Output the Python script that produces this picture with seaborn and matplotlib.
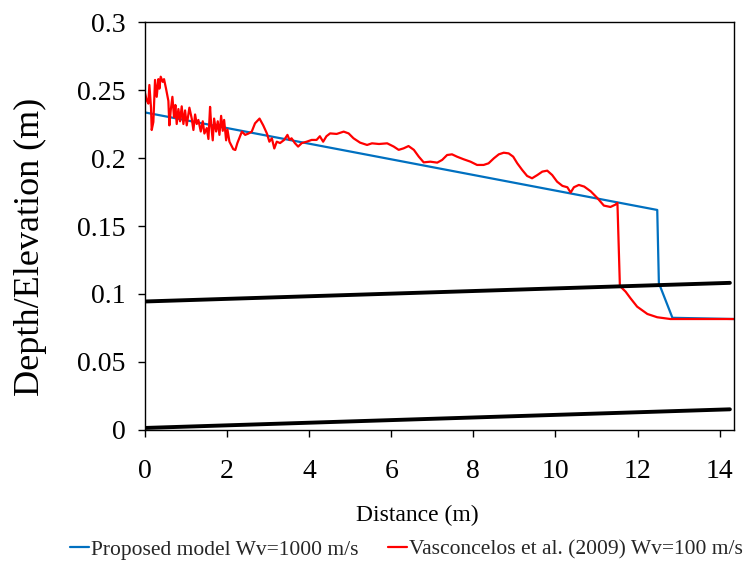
import matplotlib
matplotlib.use("Agg")
import matplotlib.pyplot as plt
import seaborn as sns

# ---------------- data ----------------
blue_x = [0.0, 12.48, 12.52, 12.85, 14.35]
blue_y = [0.2335, 0.1618, 0.1080, 0.0825, 0.0816]

red_x = [
    0.000, 0.040, 0.081, 0.106, 0.146, 0.163, 0.203, 0.244, 0.285, 0.325,
    0.350, 0.382, 0.431, 0.463, 0.512, 0.569, 0.593, 0.626, 0.667, 0.707,
    0.740, 0.772, 0.813, 0.854, 0.894, 0.935, 0.976, 1.016, 1.081, 1.138,
    1.179, 1.220, 1.260, 1.300, 1.358, 1.407, 1.447, 1.504, 1.545, 1.585,
    1.610, 1.650, 1.683, 1.732, 1.772, 1.813, 1.854, 1.894, 1.927, 1.976,
    2.008, 2.057, 2.150, 2.200, 2.250, 2.360, 2.440, 2.520, 2.600, 2.680,
    2.790, 2.880, 2.970, 3.030, 3.090, 3.150, 3.210, 3.290, 3.390, 3.470,
    3.520, 3.570, 3.650, 3.730, 3.820, 3.940, 4.060, 4.180, 4.260, 4.340,
    4.420, 4.510, 4.670, 4.840, 4.960, 5.080, 5.240, 5.410, 5.530, 5.700,
    5.900, 6.060, 6.180, 6.300, 6.420, 6.550, 6.670, 6.790, 6.950, 7.120,
    7.240, 7.360, 7.480, 7.600, 7.760, 7.930, 8.090, 8.250, 8.370, 8.500,
    8.620, 8.740, 8.860, 8.970, 9.070, 9.190, 9.310, 9.430, 9.560, 9.680,
    9.800, 9.920, 10.040, 10.170, 10.290, 10.370, 10.450, 10.570, 10.700, 10.860,
    11.020, 11.180, 11.340, 11.460, 11.510, 11.570, 11.710, 11.830, 11.990, 12.240,
    12.480, 12.800, 14.350,
]
red_y = [
    0.2476, 0.2426, 0.2400, 0.2537, 0.2370, 0.2206, 0.2265, 0.2574, 0.2450, 0.2580,
    0.2510, 0.2598, 0.2560, 0.2580, 0.2510, 0.2420, 0.2240, 0.2350, 0.2450, 0.2300,
    0.2390, 0.2250, 0.2360, 0.2270, 0.2380, 0.2250, 0.2350, 0.2240, 0.2370, 0.2290,
    0.2206, 0.2320, 0.2250, 0.2280, 0.2195, 0.2270, 0.2180, 0.2220, 0.2140, 0.2376,
    0.2250, 0.2130, 0.2290, 0.2195, 0.2270, 0.2170, 0.2310, 0.2200, 0.2280, 0.2130,
    0.2210, 0.2120, 0.2065, 0.2059, 0.2110, 0.2194, 0.2170, 0.2180, 0.2194, 0.2255,
    0.2290, 0.2240, 0.2180, 0.2120, 0.2145, 0.2070, 0.2120, 0.2110, 0.2133, 0.2170,
    0.2133, 0.2145, 0.2110, 0.2084, 0.2110, 0.2120, 0.2133, 0.2133, 0.2160, 0.2120,
    0.2160, 0.2181, 0.2177, 0.2194, 0.2181, 0.2145, 0.2113, 0.2096, 0.2108, 0.2103,
    0.2108, 0.2084, 0.2060, 0.2071, 0.2088, 0.2060, 0.2010, 0.1968, 0.1973, 0.1966,
    0.1986, 0.2022, 0.2027, 0.2010, 0.1991, 0.1973, 0.1949, 0.1949, 0.1961, 0.1998,
    0.2027, 0.2039, 0.2034, 0.2010, 0.1961, 0.1912, 0.1868, 0.1851, 0.1875, 0.1900,
    0.1907, 0.1875, 0.1826, 0.1795, 0.1785, 0.1746, 0.1785, 0.1802, 0.1790, 0.1755,
    0.1706, 0.1650, 0.1640, 0.1657, 0.1670, 0.1059, 0.1017, 0.0968, 0.0907, 0.0853,
    0.0829, 0.0816, 0.0816,
]

pipe_x = [0.0, 14.25]
crown_y = [0.0945, 0.1082]
bed_y = [0.0015, 0.0152]

x_ticks = [0, 2, 4, 6, 8, 10, 12, 14]
y_ticks = [0, 0.05, 0.1, 0.15, 0.2, 0.25, 0.3]
y_tick_labels = ["0", "0.05", "0.1", "0.15", "0.2", "0.25", "0.3"]

label_blue = "Proposed model Wv=1000 m/s"
label_red = "Vasconcelos et al. (2009) Wv=100 m/s"

# ---------------- plot ----------------
sns.set_theme(style="white")
plt.rcParams['font.family'] = ['Liberation Serif', 'DejaVu Serif']

fig = plt.figure(figsize=(7.46, 5.66), dpi=100)
ax = fig.add_axes([0.1944, 0.2403, 0.7895, 0.7208])

blue = "#0070C0"
red = "#FF0000"

sns.lineplot(x=blue_x, y=blue_y, sort=False, estimator=None, color=blue,
             lw=1.6, ax=ax, label=label_blue)
sns.lineplot(x=red_x, y=red_y, sort=False, estimator=None, color=red,
             lw=1.6, ax=ax, label=label_red)
sns.lineplot(x=pipe_x, y=crown_y, sort=False, estimator=None, color="black",
             lw=2.8, ax=ax)
sns.lineplot(x=pipe_x, y=bed_y, sort=False, estimator=None, color="black",
             lw=2.8, ax=ax)

ax.set_xlim(0, 14.35)
ax.set_ylim(0, 0.3)
ax.set_xticks(x_ticks)
ax.set_yticks(y_ticks)
ax.set_yticklabels(y_tick_labels)
ax.tick_params(axis="both", direction="out", length=5, width=1, color="black",
               labelsize=20, labelcolor="black", bottom=True, left=True)
ax.tick_params(axis="x", pad=16)
ax.tick_params(axis="y", pad=9)
for s in ax.spines.values():
    s.set_color("black")
    s.set_linewidth(1.0)

ax.set_xlabel("Distance (m)", fontsize=17, color="black")
ax.xaxis.set_label_coords(0.462, -0.183)
ax.set_ylabel("Depth/Elevation (m)", fontsize=26, color="black")
ax.yaxis.set_label_coords(-0.167, 0.449)

handles, labels = ax.get_legend_handles_labels()
ax.get_legend().remove()
fig.legend(handles[:2], labels[:2], loc="center", bbox_to_anchor=(0.545, 0.029),
           ncol=2, frameon=False, fontsize=15.5, handlelength=0.9,
           handletextpad=0.1, columnspacing=1.35, borderaxespad=0)

fig.savefig("out.png", dpi=100)
